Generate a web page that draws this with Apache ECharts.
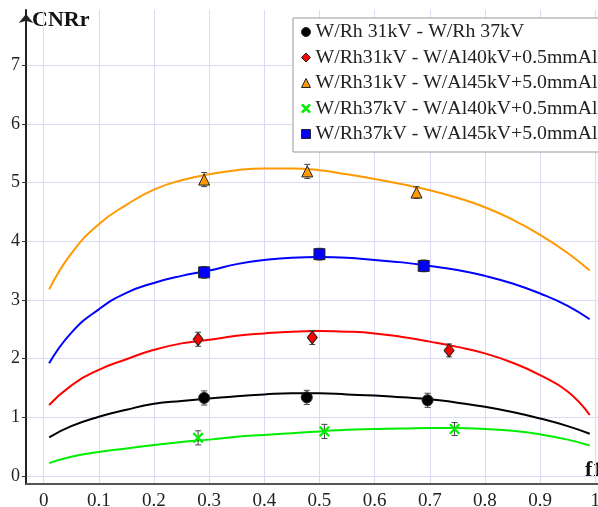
<!DOCTYPE html>
<html><head><meta charset="utf-8">
<script src="https://cdn.jsdelivr.net/npm/echarts@6/dist/echarts.min.js"></script>
<style>html,body{margin:0;padding:0;background:#fff}#c{width:598px;height:507px}</style>
</head><body><div id="c"></div><script>
// ---- data ----
const xTicks = [0, 0.1, 0.2, 0.3, 0.4, 0.5, 0.6, 0.7, 0.8, 0.9, 1];
const yTicks = [0, 1, 2, 3, 4, 5, 6, 7];
const seriesNames = [
  'W/Rh 31kV - W/Rh 37kV',
  'W/Rh31kV - W/Al40kV+0.5mmAl',
  'W/Rh31kV - W/Al45kV+5.0mmAl',
  'W/Rh37kV - W/Al40kV+0.5mmAl',
  'W/Rh37kV - W/Al45kV+5.0mmAl'
];
// measured points [f1, CNRr]
const ptsBlack  = [[0.291, 1.33], [0.477, 1.34], [0.696, 1.29]];
const ptsRed    = [[0.280, 2.33], [0.487, 2.36], [0.735, 2.14]];
const ptsOrange = [[0.291, 5.05], [0.478, 5.19], [0.676, 4.83]];
const ptsGreen  = [[0.280, 0.65], [0.509, 0.76], [0.745, 0.80]];
const ptsBlue   = [[0.291, 3.47], [0.500, 3.78], [0.689, 3.58]];
// error half-widths
const errBlack  = [0.12, 0.12, 0.12];
const errRed    = [0.12, 0.12, 0.11];
const errOrange = [0.12, 0.12, 0.10];
const errGreen  = [0.12, 0.12, 0.11];
const errBlue   = [0.10, 0.10, 0.10];
// fitted curves sampled at fitX
const fitX      = [0.01, 0.05, 0.1, 0.15, 0.2, 0.25, 0.3, 0.35, 0.4, 0.45, 0.5, 0.55, 0.6, 0.65, 0.7, 0.75, 0.8, 0.85, 0.9, 0.95, 0.99];
const fitOrange = [3.18, 3.79, 4.29, 4.62, 4.88, 5.04, 5.14, 5.21, 5.24, 5.24, 5.21, 5.14, 5.06, 4.97, 4.87, 4.74, 4.58, 4.37, 4.11, 3.80, 3.50];
const fitBlue   = [1.92, 2.44, 2.84, 3.12, 3.29, 3.41, 3.50, 3.61, 3.68, 3.72, 3.73, 3.72, 3.68, 3.64, 3.58, 3.51, 3.41, 3.28, 3.11, 2.90, 2.67];
const fitRed    = [1.21, 1.54, 1.81, 1.99, 2.15, 2.26, 2.32, 2.39, 2.43, 2.46, 2.47, 2.46, 2.43, 2.37, 2.29, 2.20, 2.09, 1.93, 1.72, 1.44, 1.04];
const fitBlack  = [0.66, 0.85, 1.01, 1.13, 1.23, 1.28, 1.32, 1.36, 1.39, 1.41, 1.41, 1.39, 1.37, 1.34, 1.31, 1.25, 1.18, 1.09, 0.98, 0.85, 0.72];
const fitGreen  = [0.22, 0.33, 0.41, 0.47, 0.53, 0.58, 0.62, 0.67, 0.70, 0.73, 0.76, 0.79, 0.80, 0.81, 0.82, 0.82, 0.80, 0.77, 0.71, 0.62, 0.52];

// ---- chart ----
const FONT = 'Liberation Serif';
const colors = ['#000000', '#ff0000', '#ff9900', '#00ee00', '#0000ff'];
const symbols = [
  'circle', 'diamond', 'triangle',
  'path://M0,1.4L1.4,0L5,3.6L8.6,0L10,1.4L6.4,5L10,8.6L8.6,10L5,6.4L1.4,10L0,8.6L3.6,5Z',
  'rect'
];
const sizes = [11, [10, 13], 11, 11, 11];
const pts = [ptsBlack, ptsRed, ptsOrange, ptsGreen, ptsBlue];
const errs = [errBlack, errRed, errOrange, errGreen, errBlue];
const fits = [fitBlack, fitRed, fitOrange, fitGreen, fitBlue];

const series = [];
fits.forEach((f, i) => {
  series.push({
    type: 'line', name: 'fit' + i, data: fitX.map((x, k) => [x, f[k]]),
    smooth: true, showSymbol: false, silent: true,
    lineStyle: { color: colors[i], width: 2 }, z: 2
  });
});
pts.forEach((p, i) => {
  series.push({
    type: 'custom', name: 'err' + i, z: 3, silent: true,
    data: p.map((d, k) => [d[0], d[1] - errs[i][k], d[1] + errs[i][k]]),
    renderItem: (params, api) => {
      const lo = api.coord([api.value(0), api.value(1)]);
      const hi = api.coord([api.value(0), api.value(2)]);
      const st = { stroke: '#444', lineWidth: 1 };
      return { type: 'group', children: [
        { type: 'line', shape: { x1: lo[0], y1: lo[1], x2: hi[0], y2: hi[1] }, style: st },
        { type: 'line', shape: { x1: lo[0] - 3, y1: lo[1], x2: lo[0] + 3, y2: lo[1] }, style: st },
        { type: 'line', shape: { x1: hi[0] - 3, y1: hi[1], x2: hi[0] + 3, y2: hi[1] }, style: st }
      ]};
    }
  });
});
pts.forEach((p, i) => {
  series.push({
    type: 'scatter', name: seriesNames[i], data: p, symbol: symbols[i], symbolSize: sizes[i], z: 4,
    itemStyle: { color: colors[i], borderColor: i === 3 ? colors[i] : '#222', borderWidth: i === 3 ? 0 : 1, opacity: 1 }
  });
});

const chart = echarts.init(document.getElementById('c'), null, { renderer: 'canvas' });
chart.setOption({
  animation: false,
  backgroundColor: '#ffffff',
  textStyle: { fontFamily: FONT },
  grid: { left: 26, right: 0, top: 10, bottom: 23, containLabel: false, outerBoundsMode: 'none' },
  xAxis: {
    type: 'value', min: -0.032, max: 1.005,
    axisLine: { onZero: false, lineStyle: { color: '#555', width: 2 } },
    axisTick: { show: false, customValues: xTicks },
    axisLabel: { customValues: xTicks, margin: 8, fontSize: 19, color: '#222', fontFamily: FONT,
      formatter: v => String(Math.round(v * 10) / 10) },
    splitLine: { show: true, lineStyle: { color: '#dadaf5', width: 1 } }
  },
  yAxis: {
    type: 'value', min: -0.136, max: 7.94,
    axisLine: { show: true, onZero: false, lineStyle: { color: '#222', width: 2 },
      symbol: ['none', 'arrow'], symbolSize: [11, 9], symbolOffset: [0, -4] },
    axisTick: { show: true, customValues: yTicks, length: 4, lineStyle: { color: '#333' } },
    axisLabel: { customValues: yTicks, margin: 6, fontSize: 18, color: '#222', fontFamily: FONT },
    splitLine: { show: true, lineStyle: { color: '#dadaf5', width: 1 } }
  },
  legend: {
    data: seriesNames, orient: 'vertical', left: 293, top: 18,
    backgroundColor: '#fff', borderColor: '#999', borderWidth: 1,
    padding: [4, 10, 8, 8], itemWidth: 9, itemHeight: 9, itemGap: 5.5,
    itemStyle: { borderWidth: 1 },
    textStyle: { fontFamily: FONT, fontSize: 19.8, color: '#222', lineHeight: 20 }
  },
  graphic: [
    { type: 'text', left: 32, top: 9, style: { text: 'CNRr', font: 'bold 22px "Liberation Serif"', fill: '#111' } },
    { type: 'text', left: 585, top: 459, style: { text: 'f1', font: 'bold 22px "Liberation Serif"', fill: '#111' } }
  ],
  series
});
</script></body></html>
